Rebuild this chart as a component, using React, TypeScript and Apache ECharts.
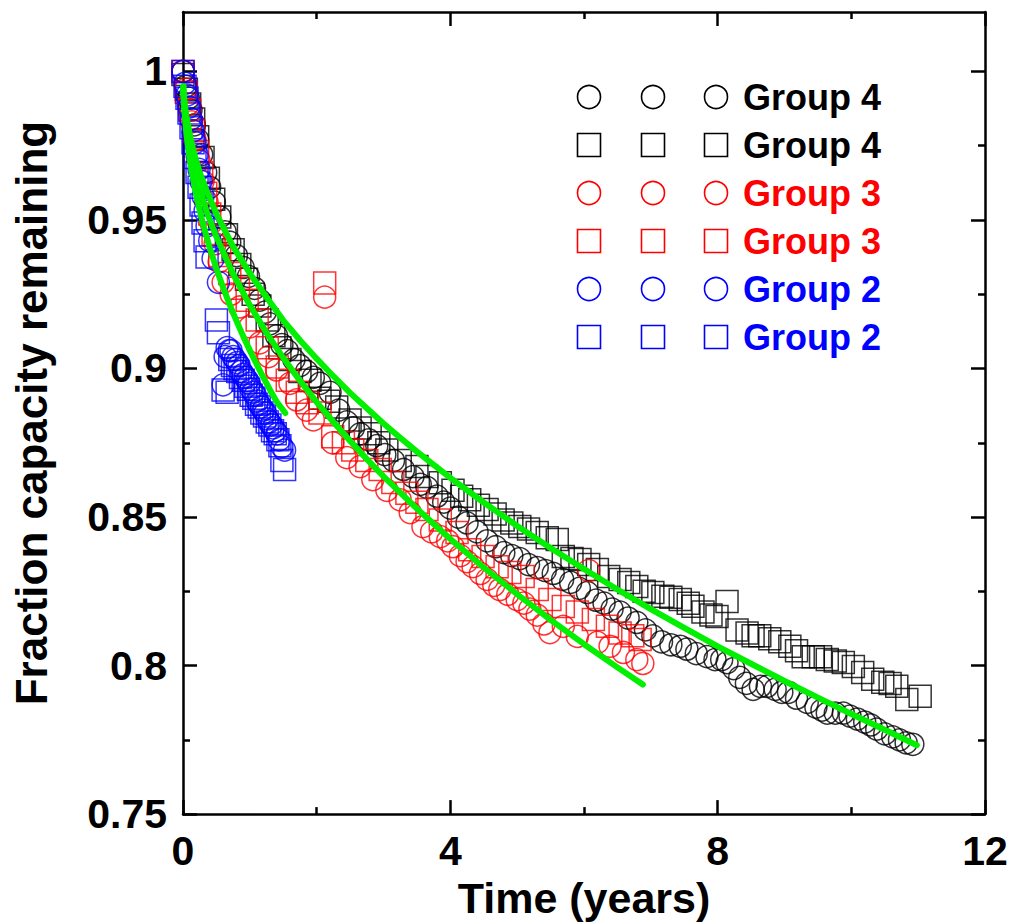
import React, { useEffect, useRef } from "react";
import * as echarts from "echarts";

const FONT = "Arial, 'Liberation Sans', Helvetica, sans-serif";

// Axis tick values
const xTicks = [0, 4, 8, 12];
const yMajorTicks = [0.75, 0.8, 0.85, 0.9, 0.95, 1];
const yMinorTicks = [0.775, 0.825, 0.875, 0.925, 0.975];

// Legend rows
const legendLabels = ["Group 4", "Group 4", "Group 3", "Group 3", "Group 2", "Group 2"];
const legendSymbols = ["circle", "rect", "circle", "rect", "circle", "rect"];
const legendColors = ["#000000", "#000000", "#ff0000", "#ff0000", "#0000ff", "#0000ff"];

// Group 4 circles [years, fraction]
const g4Circles = [
  [0, 1.0], [0.04, 0.995], [0.08, 0.991], [0.12, 0.987], [0.17, 0.982], [0.22, 0.977], [0.28, 0.972],
  [0.34, 0.966], [0.4, 0.961], [0.47, 0.956], [0.55, 0.951], [0.63, 0.946], [0.7, 0.9425], [0.8, 0.938],
  [0.9, 0.934], [0.98, 0.931], [1.07, 0.927], [1.15, 0.923], [1.23, 0.919], [1.3, 0.915], [1.4, 0.911],
  [1.48, 0.908], [1.56, 0.906], [1.66, 0.903], [1.75, 0.901], [1.85, 0.899], [1.95, 0.897], [2.05, 0.895],
  [2.2, 0.892], [2.33, 0.886], [2.45, 0.882], [2.55, 0.88], [2.65, 0.878], [2.78, 0.876], [2.9, 0.874],
  [3.02, 0.871], [3.15, 0.869], [3.3, 0.866], [3.44, 0.8636], [3.55, 0.861], [3.65, 0.86], [3.8, 0.857],
  [3.9, 0.855], [4.0, 0.853], [4.12, 0.85], [4.25, 0.848], [4.4, 0.845], [4.55, 0.842], [4.68, 0.84],
  [4.8, 0.838], [4.92, 0.837], [5.04, 0.836], [5.17, 0.834], [5.3, 0.833], [5.42, 0.832], [5.54, 0.831],
  [5.68, 0.829], [5.8, 0.828], [5.93, 0.826], [6.05, 0.8246], [6.18, 0.822], [6.3, 0.821], [6.42, 0.819],
  [6.54, 0.818], [6.66, 0.816], [6.79, 0.8145], [6.92, 0.812], [7.03, 0.81], [7.16, 0.808], [7.3, 0.807],
  [7.44, 0.8065], [7.54, 0.8055], [7.68, 0.804], [7.84, 0.803], [7.96, 0.802], [8.06, 0.802], [8.14, 0.801],
  [8.24, 0.799], [8.33, 0.796], [8.43, 0.794], [8.53, 0.792], [8.64, 0.793], [8.74, 0.793], [8.86, 0.792],
  [8.96, 0.791], [9.06, 0.791], [9.18, 0.789], [9.34, 0.7876], [9.47, 0.786], [9.56, 0.785], [9.64, 0.784],
  [9.76, 0.784], [9.88, 0.784], [9.98, 0.783], [10.09, 0.782], [10.2, 0.781], [10.29, 0.78], [10.38, 0.7786],
  [10.5, 0.777], [10.62, 0.776], [10.72, 0.775], [10.82, 0.774], [10.92, 0.7735],
];

// Group 4 squares
const g4Squares = [
  [0, 0.999], [0.05, 0.994], [0.1, 0.989], [0.16, 0.984], [0.22, 0.978], [0.3, 0.971], [0.38, 0.964],
  [0.46, 0.957], [0.55, 0.951], [0.65, 0.945], [0.75, 0.94], [0.85, 0.935], [0.95, 0.93], [1.05, 0.925],
  [1.15, 0.921], [1.26, 0.9163], [1.36, 0.911], [1.45, 0.907], [1.6, 0.903], [1.75, 0.899], [1.9, 0.896],
  [2.05, 0.89], [2.18, 0.889], [2.3, 0.887], [2.5, 0.8827], [2.65, 0.88], [2.8, 0.878], [2.93, 0.875],
  [3.05, 0.8726], [3.25, 0.869], [3.5, 0.867], [3.65, 0.8636], [3.85, 0.8615], [4.04, 0.859], [4.17, 0.857],
  [4.29, 0.8558], [4.42, 0.854], [4.55, 0.8525], [4.67, 0.851], [4.79, 0.849], [4.92, 0.848], [5.04, 0.8468],
  [5.17, 0.846], [5.3, 0.8448], [5.45, 0.843], [5.6, 0.8424], [5.69, 0.8367], [5.82, 0.836], [5.94, 0.8357],
  [6.07, 0.834], [6.2, 0.8323], [6.37, 0.83], [6.54, 0.829], [6.67, 0.828], [6.79, 0.8266], [6.9, 0.825],
  [7.03, 0.8246], [7.18, 0.8233], [7.3, 0.823], [7.44, 0.8222], [7.56, 0.821], [7.63, 0.82], [7.78, 0.818],
  [7.9, 0.817], [7.99, 0.8165], [8.14, 0.8216], [8.29, 0.812], [8.44, 0.811], [8.53, 0.81], [8.63, 0.81],
  [8.78, 0.809], [8.93, 0.808], [9.08, 0.8065], [9.18, 0.805], [9.28, 0.803], [9.43, 0.803], [9.54, 0.803],
  [9.64, 0.802], [9.76, 0.8015], [9.88, 0.801], [10.03, 0.7997], [10.17, 0.7977], [10.32, 0.7954],
  [10.47, 0.7944], [10.58, 0.794], [10.68, 0.793], [10.83, 0.7886], [11.03, 0.7897],
];

// Group 3 circles
const g3Circles = [
  [0, 1.0], [0.04, 0.994], [0.08, 0.989], [0.13, 0.983], [0.18, 0.977], [0.24, 0.97], [0.3, 0.963],
  [0.36, 0.956], [0.42, 0.949], [0.48, 0.942], [0.54, 0.936], [0.6, 0.929], [0.72, 0.925], [0.85, 0.9207],
  [1.0, 0.914], [1.15, 0.9086], [1.28, 0.904], [1.4, 0.8995], [1.6, 0.895], [1.7, 0.8894], [1.85, 0.886],
  [1.95, 0.8827], [2.12, 0.924], [2.24, 0.875], [2.45, 0.87], [2.65, 0.867], [2.84, 0.8626], [3.05, 0.859],
  [3.25, 0.8558], [3.4, 0.8515], [3.59, 0.8468], [3.72, 0.845], [3.85, 0.8434], [3.96, 0.842], [4.04, 0.84],
  [4.15, 0.837], [4.25, 0.835], [4.34, 0.8333], [4.45, 0.831], [4.55, 0.829], [4.65, 0.827], [4.74, 0.8256],
  [4.86, 0.824], [5.0, 0.8222], [5.1, 0.821], [5.19, 0.819], [5.3, 0.817], [5.4, 0.814], [5.49, 0.8111],
  [5.69, 0.8132], [5.9, 0.8098], [6.07, 0.832], [6.2, 0.8078], [6.39, 0.8065], [6.59, 0.8044],
  [6.79, 0.802], [6.88, 0.8007],
];

// Group 3 squares
const g3Squares = [
  [0, 1.0], [0.05, 0.993], [0.1, 0.987], [0.16, 0.98], [0.22, 0.973], [0.28, 0.966], [0.34, 0.959],
  [0.4, 0.952], [0.45, 0.945], [0.55, 0.938], [0.7, 0.932], [0.83, 0.927], [0.96, 0.923], [1.11, 0.9163],
  [1.26, 0.907], [1.41, 0.9005], [1.56, 0.896], [1.71, 0.892], [1.86, 0.8885], [2.05, 0.885], [2.12, 0.9288],
  [2.24, 0.877], [2.4, 0.875], [2.54, 0.8726], [2.75, 0.869], [2.95, 0.866], [3.14, 0.8616], [3.35, 0.858],
  [3.5, 0.855], [3.65, 0.8525], [3.85, 0.849], [4.1, 0.8448], [4.29, 0.839], [4.49, 0.8367], [4.7, 0.8333],
  [4.89, 0.8313], [5.09, 0.83], [5.3, 0.8256], [5.49, 0.8222], [5.69, 0.8199], [5.9, 0.818], [6.14, 0.8155],
  [6.35, 0.8132], [6.54, 0.811], [6.73, 0.81], [6.84, 0.8088],
];

// Group 2 circles
const g2Circles = [
  [0, 1.0], [0.03, 0.996], [0.06, 0.992], [0.09, 0.988], [0.12, 0.984], [0.15, 0.98], [0.18, 0.976],
  [0.21, 0.972], [0.24, 0.967], [0.27, 0.963], [0.3, 0.958], [0.33, 0.953], [0.36, 0.948], [0.4, 0.943],
  [0.45, 0.937], [0.53, 0.929], [0.6, 0.8945], [0.63, 0.904], [0.66, 0.907], [0.69, 0.906], [0.72, 0.906],
  [0.75, 0.904], [0.78, 0.903], [0.81, 0.902], [0.84, 0.901], [0.87, 0.899], [0.9, 0.898], [0.93, 0.897],
  [0.96, 0.896], [0.99, 0.895], [1.02, 0.893], [1.05, 0.892], [1.08, 0.891], [1.11, 0.889], [1.14, 0.888],
  [1.17, 0.887], [1.2, 0.886], [1.23, 0.885], [1.26, 0.883], [1.29, 0.882], [1.32, 0.881], [1.35, 0.88],
  [1.38, 0.879], [1.41, 0.878], [1.44, 0.876], [1.48, 0.8737], [1.52, 0.8725],
];

// Group 2 squares
const g2Squares = [
  [0, 1.0], [0.03, 0.995], [0.06, 0.991], [0.09, 0.986], [0.12, 0.981], [0.15, 0.976], [0.18, 0.971],
  [0.21, 0.966], [0.24, 0.961], [0.27, 0.955], [0.3, 0.949], [0.33, 0.943], [0.36, 0.9375], [0.5, 0.9163],
  [0.53, 0.912], [0.6, 0.8928], [0.66, 0.892], [0.7, 0.903], [0.74, 0.901], [0.78, 0.9], [0.82, 0.899],
  [0.86, 0.897], [0.9, 0.896], [0.94, 0.894], [0.98, 0.893], [1.02, 0.891], [1.06, 0.89], [1.1, 0.888],
  [1.14, 0.887], [1.18, 0.885], [1.22, 0.884], [1.26, 0.882], [1.3, 0.881], [1.34, 0.879], [1.38, 0.878],
  [1.42, 0.876], [1.45, 0.874], [1.48, 0.869], [1.52, 0.866],
];

// Fitted curves
const fit4 = [
  [0.005, 0.995], [0.01, 0.993], [0.02, 0.99], [0.05, 0.985], [0.1, 0.979], [0.17, 0.972], [0.25, 0.966],
  [0.35, 0.96], [0.5, 0.952], [0.75, 0.941], [1.0, 0.932], [1.25, 0.924], [1.5, 0.9162], [1.75, 0.9095],
  [2.0, 0.9033], [2.25, 0.8974], [2.5, 0.8918], [2.75, 0.8866], [3.0, 0.8815], [3.25, 0.8767], [3.5, 0.872],
  [4.0, 0.8632], [4.5, 0.8549], [5.0, 0.847], [5.5, 0.8396], [6.0, 0.8325], [6.5, 0.8256], [7.0, 0.819],
  [7.5, 0.8127], [8.0, 0.8065], [8.5, 0.8006], [9.0, 0.7948], [9.5, 0.7892], [10.0, 0.7837],
  [10.5, 0.7784], [10.98, 0.7732],
];
const fit3 = [
  [0.005, 0.995], [0.01, 0.992], [0.02, 0.989], [0.05, 0.983], [0.1, 0.975], [0.17, 0.968], [0.25, 0.961],
  [0.35, 0.953], [0.5, 0.9443], [0.75, 0.9318], [1.0, 0.9213], [1.25, 0.912], [1.5, 0.9036], [1.75, 0.8959],
  [2.0, 0.8887], [2.25, 0.882], [2.5, 0.8756], [2.75, 0.8695], [3.0, 0.8637], [3.5, 0.8528], [4.0, 0.8426],
  [4.5, 0.833], [5.0, 0.824], [5.5, 0.8154], [6.0, 0.8072], [6.5, 0.7994], [6.88, 0.7936],
];
const fit2 = [
  [0.005, 0.994], [0.01, 0.991], [0.02, 0.987], [0.05, 0.979], [0.1, 0.9703], [0.15, 0.964], [0.2, 0.958],
  [0.3, 0.9486], [0.4, 0.9406], [0.5, 0.9336], [0.6, 0.9273], [0.7, 0.9214], [0.8, 0.916], [0.9, 0.9109],
  [1.0, 0.9061], [1.1, 0.9015], [1.2, 0.8971], [1.3, 0.8929], [1.4, 0.8889], [1.53, 0.885],
];

const scatterSeries = [
  { name: "Group 4 circles", data: g4Circles, symbol: "circle", color: "#000000" },
  { name: "Group 4 squares", data: g4Squares, symbol: "rect", color: "#000000" },
  { name: "Group 3 circles", data: g3Circles, symbol: "circle", color: "#ff0000" },
  { name: "Group 3 squares", data: g3Squares, symbol: "rect", color: "#ff0000" },
  { name: "Group 2 circles", data: g2Circles, symbol: "circle", color: "#0000ff" },
  { name: "Group 2 squares", data: g2Squares, symbol: "rect", color: "#0000ff" },
];
const fits = [fit4, fit3, fit2];

export default function App() {
  const ref = useRef<HTMLDivElement>(null);
  useEffect(() => {
    if (!ref.current) return;
    const chart = echarts.init(ref.current, null, { renderer: "svg" });

    const axisLine = { show: true, lineStyle: { color: "#000", width: 2.5 } };
    const labelStyle = { color: "#000", fontSize: 41, fontWeight: "bold", fontFamily: FONT };
    const nameStyle = { color: "#000", fontSize: 43, fontWeight: "bold", fontFamily: FONT };

    const xBase = {
      type: "value",
      min: xTicks[0],
      max: xTicks[xTicks.length - 1],
      interval: 4,
      splitLine: { show: false },
      axisLine,
      axisTick: { show: true, inside: true, length: 14, lineStyle: { color: "#000", width: 2.5 } },
      minorTick: { show: true, splitNumber: 2, length: 7, lineStyle: { color: "#000", width: 2.5 } },
      minorSplitLine: { show: false },
    };
    const yBase = {
      type: "value",
      min: 0.75,
      max: 1.02,
      splitLine: { show: false },
    };

    const legendX = [589, 653, 716];
    const rowY0 = 97;
    const rowGap = 48;
    const graphic: any[] = [];
    legendLabels.forEach((label, i) => {
      const cy = rowY0 + i * rowGap;
      const color = legendColors[i];
      legendX.forEach((cx) => {
        if (legendSymbols[i] === "circle") {
          graphic.push({
            type: "circle",
            z: 100,
            shape: { cx, cy, r: 11.5 },
            style: { fill: "transparent", stroke: color, lineWidth: 1.6 },
          });
        } else {
          graphic.push({
            type: "rect",
            z: 100,
            shape: { x: cx - 11.5, y: cy - 11.5, width: 23, height: 23 },
            style: { fill: "transparent", stroke: color, lineWidth: 1.6 },
          });
        }
      });
      graphic.push({
        type: "text",
        z: 100,
        x: 743,
        y: cy,
        style: {
          text: label,
          fill: color,
          fontSize: 36,
          fontWeight: "bold",
          fontFamily: FONT,
          verticalAlign: "middle",
          align: "left",
        },
      });
    });

    const option: any = {
      animation: false,
      backgroundColor: "#ffffff",
      grid: { left: 183, right: 26, top: 12, bottom: 109, containLabel: false },
      xAxis: [
        {
          ...xBase,
          position: "bottom",
          axisLabel: { ...labelStyle, margin: 16 },
          name: "Time (years)",
          nameLocation: "middle",
          nameGap: 52,
          nameTextStyle: nameStyle,
        },
        { ...xBase, position: "top", axisLabel: { show: false } },
      ],
      yAxis: [
        {
          ...yBase,
          position: "left",
          axisLine,
          axisTick: {
            show: true,
            inside: true,
            length: 14,
            customValues: yMajorTicks,
            lineStyle: { color: "#000", width: 2.5 },
          },
          axisLabel: { ...labelStyle, margin: 16, customValues: yMajorTicks },
          name: "Fraction capacity remaining",
          nameLocation: "middle",
          nameGap: 130,
          nameTextStyle: { ...nameStyle, fontSize: 44 },
        },
        {
          ...yBase,
          position: "left",
          axisLine: { show: false },
          axisLabel: { show: false },
          axisTick: {
            show: true,
            inside: true,
            length: 7,
            customValues: yMinorTicks,
            lineStyle: { color: "#000", width: 2.5 },
          },
        },
        {
          ...yBase,
          position: "right",
          axisLine,
          axisLabel: { show: false },
          axisTick: {
            show: true,
            inside: true,
            length: 14,
            customValues: yMajorTicks,
            lineStyle: { color: "#000", width: 2.5 },
          },
        },
        {
          ...yBase,
          position: "right",
          axisLine: { show: false },
          axisLabel: { show: false },
          axisTick: {
            show: true,
            inside: true,
            length: 7,
            customValues: yMinorTicks,
            lineStyle: { color: "#000", width: 2.5 },
          },
        },
      ],
      series: [
        ...scatterSeries.map((s, i) => ({
          type: "scatter",
          name: s.name,
          data: s.data,
          symbol: s.symbol,
          symbolSize: 22,
          xAxisIndex: 0,
          yAxisIndex: 0,
          z: 2 + i * 0.01,
          itemStyle: { color: "transparent", borderColor: s.color, borderWidth: 1.5 },
          emphasis: { disabled: true },
          silent: true,
        })),
        ...fits.map((d, i) => ({
          type: "line",
          name: "fit " + i,
          data: d,
          xAxisIndex: 0,
          yAxisIndex: 0,
          showSymbol: false,
          symbol: "none",
          smooth: false,
          z: 5,
          lineStyle: { color: "#00f000", width: 6, join: "round", cap: "round" },
          emphasis: { disabled: true },
          silent: true,
        })),
      ],
      graphic,
    };

    chart.setOption(option);
    return () => chart.dispose();
  }, []);

  return (
    <div
      ref={ref}
      style={{ position: "absolute", left: 0, top: 0, width: 1011, height: 924, background: "#ffffff" }}
    />
  );
}
